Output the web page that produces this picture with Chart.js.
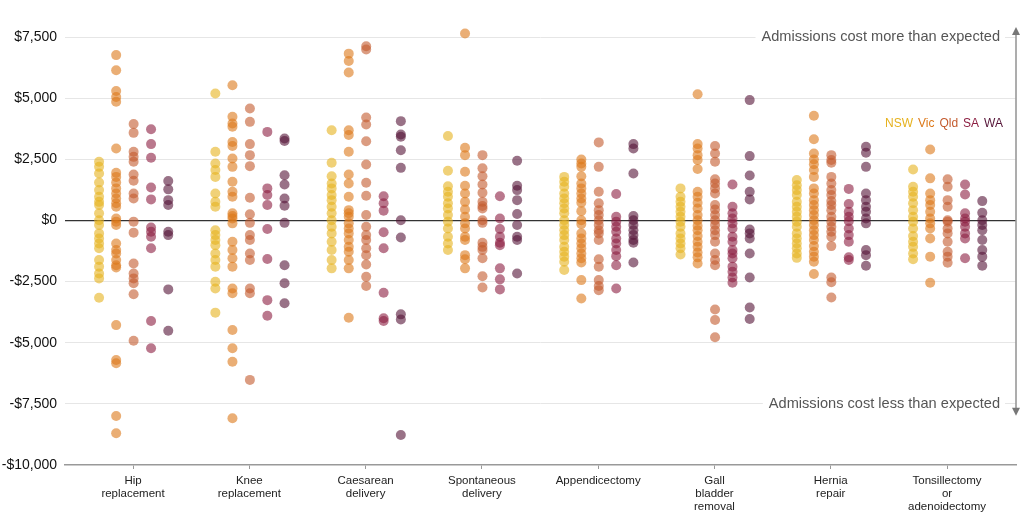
<!DOCTYPE html>
<html>
<head>
<meta charset="utf-8">
<script src="https://cdn.jsdelivr.net/npm/chart.js@4.4.1/dist/chart.umd.min.js"></script>
<style>
body { margin: 0; background: #fff; }
#wrap { width: 1024px; height: 512px; }
</style>
</head>
<body>
<div id="wrap"><canvas id="costChart" width="1024" height="512"></canvas></div>
<script>
// procedures along the x axis (multi-line tick labels)
var procedures = [
	["Hip", "replacement"],
	["Knee", "replacement"],
	["Caesarean", "delivery"],
	["Spontaneous", "delivery"],
	["Appendicectomy"],
	["Gall", "bladder", "removal"],
	["Hernia", "repair"],
	["Tonsillectomy", "or", "adenoidectomy"]
];

var states = ["NSW", "Vic", "Qld", "SA", "WA"];
var stateColors = ["230,178,30", "220,120,25", "195,90,45", "140,30,65", "85,20,55"];

// hospital cost differences ($) per procedure, one list per state
var nswValues = [
	[2400, 2190, 1920, 1550, 1240, 970, 760, 630, 290, 10, -190, -530, -740, -940, -1140, -1620, -1890, -2170, -2370, -3160],
	[5190, 2810, 2330, 2060, 1780, 1100, 760, 560, -400, -600, -800, -1010, -1350, -1620, -1890, -2510, -2780, -3770],
	[3690, 2360, 1810, 1510, 1310, 1040, 830, 560, 290, 10, -260, -530, -870, -1210, -1620, -1960],
	[3450, 2030, 1400, 1170, 970, 700, 490, 220, -50, -330, -670, -940, -1210],
	[1780, 1580, 1380, 1100, 900, 700, 490, 290, 10, -190, -400, -600, -800, -1080, -1280, -1480, -1690, -2030],
	[1310, 970, 760, 560, 350, 150, -50, -260, -530, -740, -940, -1140, -1390],
	[1650, 1440, 1240, 1040, 760, 560, 350, 150, -50, -260, -530, -740, -940, -1140, -1350, -1530],
	[2080, 1380, 1170, 970, 700, 420, 150, -50, -330, -640, -870, -1080, -1350, -1590]
];
var vicValues = [
	[6760, 6140, 5290, 5050, 4850, 2940, 1950, 1780, 1550, 1310, 1100, 900, 700, 560, 80, -50, -190, -940, -1210, -1350, -1620, -1830, -1920, -4280, -5710, -5840, -8000, -8700],
	[5530, 4240, 3960, 3830, 3210, 3040, 2530, 2190, 1580, 1170, 970, 290, 180, 80, -120, -870, -1210, -1550, -1890, -2780, -2980, -4480, -5230, -5780, -8090],
	[6820, 6520, 6050, 3690, 3490, 2810, 1880, 1510, 970, 420, 290, 150, -120, -330, -530, -800, -1080, -1280, -1620, -1960, -3980],
	[7640, 2970, 2670, 1990, 1420, 1100, 760, 450, 150, -120, -330, -670, -800, -1420, -1590, -1960],
	[2490, 2330, 2190, 1810, 1510, 1310, 1100, 900, 720, 380, 10, -150, -530, -740, -940, -1140, -1350, -1550, -1720, -2440, -3190],
	[5160, 3120, 2940, 2670, 2470, 2100, 1170, 970, 720, 490, 220, 10, -220, -400, -640, -870, -1080, -1310, -1510, -1760],
	[4280, 3320, 2740, 2490, 2300, 2060, 1780, 1310, 1100, 830, 630, 420, 220, 10, -190, -400, -600, -800, -1050, -1280, -1480, -1690, -2190],
	[2900, 1720, 1100, 830, 630, 350, 80, -120, -330, -740, -1480, -2550]
];
var qldValues = [
	[3940, 3580, 2810, 2600, 2400, 1880, 1620, 1100, 900, -50, -500, -1760, -2170, -2370, -2570, -3020, -4920],
	[4580, 4030, 3120, 2670, 2220, 930, 250, -100, -600, -800, -1350, -1620, -2780, -2980, -6520],
	[7120, 6990, 4210, 3920, 3240, 2290, 1540, 1010, 220, -260, -600, -800, -1140, -1420, -1800, -2300, -2680],
	[2670, 2130, 1810, 1470, 1130, 760, 590, 490, 10, -100, -910, -1080, -1210, -1550, -2280, -2740],
	[3190, 2190, 1170, 700, 420, 220, 10, -190, -400, -530, -800, -1590, -1890, -2440, -2680, -2850],
	[3040, 2740, 2400, 1680, 1510, 1310, 1100, 630, 450, 220, 10, -190, -400, -600, -870, -1350, -1620, -1830, -3640, -4070, -4780],
	[2670, 2470, 2360, 1780, 1510, 1240, 1040, 790, 630, 420, 150, -50, -260, -460, -670, -1050, -2330, -2530, -3150],
	[1680, 1380, 830, 560, 10, -50, -330, -530, -870, -1280, -1480, -1730]
];
var saValues = [
	[3730, 3120, 2560, 1350, 860, -290, -460, -670, -1140, -4110, -5230],
	[3620, 1310, 1040, 630, -350, -1580, -3260, -3900],
	[990, 700, 400, -480, -1140, -2960, -4000, -4110],
	[990, 80, -350, -670, -910, -1010, -1960, -2410, -2820],
	[1080, 150, -50, -260, -460, -740, -940, -1210, -1460, -1830, -2780],
	[1470, 560, 290, 80, -120, -330, -670, -870, -1210, -1350, -1550, -1890, -2100, -2330, -2550],
	[1290, 670, 350, 150, -30, -330, -600, -870, -1510, -1620],
	[1470, 1060, 290, 80, -50, -260, -530, -740, -1550]
];
var waValues = [
	[1610, 1270, 830, 630, -460, -600, -2820, -4510],
	[3350, 3250, 1850, 1470, 900, 600, -100, -1830, -2570, -3390],
	[4060, 3510, 3420, 2870, 2150, 10, -700, -3840, -4050, -8770],
	[2440, 1420, 1240, 830, 260, -190, -670, -800, -2170],
	[3120, 2940, 1920, 180, 10, -190, -400, -600, -800, -910, -1720],
	[4920, 2630, 1840, 1170, 860, -370, -530, -740, -1350, -2330, -3560, -4030],
	[3010, 2770, 2190, 1100, 830, 560, 350, 80, -120, -1210, -1420, -1850],
	[790, 310, 10, -190, -400, -800, -1210, -1480, -1850]
];
var allValues = [nswValues, vicValues, qldValues, saValues, waValues];

var yTicks = [7500, 5000, 2500, 0, -2500, -5000, -7500, -10000];
var notes = [
	{ value: 7500, text: "Admissions cost more than expected" },
	{ value: -7500, text: "Admissions cost less than expected" }
];

// column offset of each state inside a procedure group (x units)
var stateOffsets = [-0.292, -0.145, 0.005, 0.155, 0.303];
var fontFamily = "'Liberation Sans', Arial, sans-serif";

var datasets = states.map(function(st, s) {
	var pts = [];
	allValues[s].forEach(function(list, p) {
		list.forEach(function(v) {
			pts.push({ x: p + stateOffsets[s], y: v });
		});
	});
	return {
		label: st,
		data: pts,
		backgroundColor: "rgba(" + stateColors[s] + ",0.6)",
		borderWidth: 0,
		pointRadius: 5,
		pointHoverRadius: 5,
		clip: false
	};
});

function money(v) {
	var s = "$" + Math.abs(v).toLocaleString("en-US");
	return v < 0 ? "-" + s : s;
}

var notesPlugin = {
	id: "notes",
	beforeDatasetsDraw: function(chart) {
		var ctx = chart.ctx;
		var area = chart.chartArea;
		var y = chart.scales.y;
		ctx.save();

		// annotations with white boxes over the grid lines
		ctx.font = "14.6px " + fontFamily;
		ctx.textAlign = "right";
		ctx.textBaseline = "middle";
		notes.forEach(function(n) {
			var py = y.getPixelForValue(n.value);
			var w = ctx.measureText(n.text).width;
			var xr = area.right - 16;
			ctx.fillStyle = "#fff";
			ctx.fillRect(xr - w - 6, py - 9, w + 11, 18);
			ctx.fillStyle = "#555";
			ctx.fillText(n.text, xr, py);
		});

		// double arrow on the right
		var top = y.getPixelForValue(7500) - 10;
		var bot = y.getPixelForValue(-7500) + 12;
		var ax = area.right;
		ctx.strokeStyle = "#999";
		ctx.lineWidth = 1.6;
		ctx.beginPath();
		ctx.moveTo(ax, top + 4);
		ctx.lineTo(ax, bot - 4);
		ctx.stroke();
		ctx.fillStyle = "#777";
		ctx.beginPath();
		ctx.moveTo(ax, top);
		ctx.lineTo(ax - 4, top + 8);
		ctx.lineTo(ax + 4, top + 8);
		ctx.closePath();
		ctx.fill();
		ctx.beginPath();
		ctx.moveTo(ax, bot);
		ctx.lineTo(ax - 4, bot - 8);
		ctx.lineTo(ax + 4, bot - 8);
		ctx.closePath();
		ctx.fill();

		// coloured state legend
		ctx.font = "12px " + fontFamily;
		ctx.textAlign = "left";
		var widths = states.map(function(st) { return ctx.measureText(st).width; });
		var total = widths.reduce(function(a, b) { return a + b; }, 0) + 5 * (states.length - 1);
		var lx = area.right - 13 - total;
		var ly = area.top + 87;
		states.forEach(function(st, s) {
			ctx.fillStyle = "rgb(" + stateColors[s] + ")";
			ctx.fillText(st, lx, ly);
			lx += widths[s] + 5;
		});
		ctx.restore();
	}
};

var costChart = new Chart("costChart", {
	type: "scatter",
	data: { datasets: datasets },
	options: {
		responsive: false,
		animation: false,
		layout: { padding: { top: 37, right: 8, left: 0, bottom: 0 } },
		plugins: {
			legend: { display: false },
			tooltip: { enabled: false }
		},
		scales: {
			x: {
				type: "linear",
				min: -0.585,
				max: 7.593,
				afterBuildTicks: function(scale) {
					scale.ticks = procedures.map(function(p, i) { return { value: i }; });
				},
				afterFit: function(scale) { scale.height = 47; },
				ticks: {
					autoSkip: false,
					maxRotation: 0,
					padding: 6,
					color: "#222",
					font: { family: fontFamily, size: 11.5, lineHeight: 1.1 },
					callback: function(v) { return procedures[v]; }
				},
				grid: { drawOnChartArea: false, drawTicks: true, tickLength: 4, color: "#999" },
				border: { display: true, color: "#999", width: 1.5 }
			},
			y: {
				min: -10000,
				max: 7500,
				afterBuildTicks: function(scale) {
					scale.ticks = yTicks.map(function(v) { return { value: v }; });
				},
				afterFit: function(scale) { scale.width = 65; },
				ticks: {
					padding: 8,
					color: "#111",
					font: { family: fontFamily, size: 14 },
					callback: function(v) { return money(v); }
				},
				grid: {
					drawTicks: false,
					lineWidth: function(c) { return c.tick && c.tick.value === 0 ? 1.3 : 1; },
					color: function(c) {
						if (!c.tick) return "#e6e6e6";
						if (c.tick.value === 0) return "#333";
						if (c.tick.value === -10000) return "rgba(0,0,0,0)";
						return "#e6e6e6";
					}
				},
				border: { display: false }
			}
		}
	},
	plugins: [notesPlugin]
});
</script>
</body>
</html>
